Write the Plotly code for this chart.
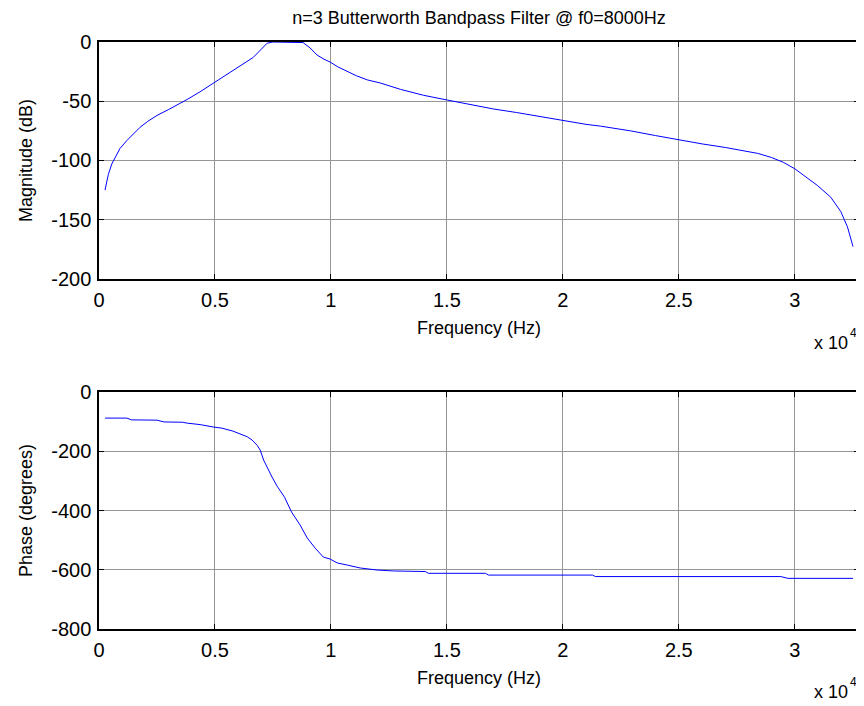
import plotly.graph_objects as go
from plotly.subplots import make_subplots

# Magnitude response (Hz, dB)
freq_mag = [260, 400, 550, 690, 900, 1208, 1500, 1770, 2100, 2500, 3000, 3400, 3800,
            4360, 5000, 5780, 6200, 6650, 7000, 7250, 7500, 8000, 8500, 8800, 9100,
            9400, 9700, 9970, 10300, 10700, 11100, 11570, 12130, 13000, 14000, 15020,
            16000, 17000, 18000, 19000, 19980, 21000, 21620, 22920, 24000, 25080,
            26000, 27000, 28400, 29000, 29500, 30000, 30470, 30970, 31550, 31980,
            32270, 32510]
mag_db = [-125, -112, -103, -98, -90, -83, -77, -72, -67, -62, -57, -53, -48.5,
          -42, -34, -24, -19, -13, -6, -1, 0, 0, 0, -0.5, -5,
          -11, -14.5, -17, -21, -25, -28.5, -32, -34.6, -40, -45, -49,
          -53, -56.5, -59.5, -63, -66, -69.5, -71, -75, -79, -83,
          -86, -89, -94, -97.5, -101.5, -107, -113.5, -121, -131, -143,
          -156, -172.7]

# Phase response (Hz, degrees)
freq_phase = [260, 1200, 1400, 2500, 2800, 3600, 3800, 4360, 4920, 5300, 5780, 6215,
              6390, 6600, 6820, 6950, 7100, 7460, 7680, 8000, 8300, 8670, 8980, 9320,
              9670, 9970, 10270, 10700, 11260, 12000, 12690, 14070, 14200, 16660,
              16800, 21280, 21400, 29400, 29700, 32510]
phase_deg = [-88, -88, -94, -95, -101, -102, -105, -110, -118, -122, -132, -145,
             -151, -162, -180, -196, -230, -287, -318, -355, -405, -449, -493, -527,
             -557, -564, -577, -584, -594, -601, -604, -606, -612, -612,
             -618, -618, -623, -623, -629, -629]

x_tickvals = [0, 5000, 10000, 15000, 20000, 25000, 30000]
x_ticktext = ["0", "0.5", "1", "1.5", "2", "2.5", "3"]
mag_ticks = [0, -50, -100, -150, -200]
mag_ticktext = ["0", "-50", "-100", "-150", "-200"]
phase_ticks = [0, -200, -400, -600, -800]
phase_ticktext = ["0", "-200", "-400", "-600", "-800"]

FONT = "Liberation Sans, Arial, sans-serif"

# the page body has an 8px margin, so the figure is sized to fit the window
W, H = 856, 698

fig = make_subplots(rows=2, cols=1, vertical_spacing=0.1)
fig.add_trace(go.Scatter(x=freq_mag, y=mag_db, mode="lines",
                         line=dict(color="#0000FF", width=1)), row=1, col=1)
fig.add_trace(go.Scatter(x=freq_phase, y=phase_deg, mode="lines",
                         line=dict(color="#0000FF", width=1)), row=2, col=1)

axis_common = dict(showline=True, linecolor="black", linewidth=1.5, mirror="ticks",
                   ticks="inside", ticklen=5, tickcolor="black", tickwidth=1,
                   showgrid=True, gridcolor="rgb(150,150,150)", gridwidth=1,
                   zeroline=False, automargin=False,
                   tickfont=dict(family=FONT, size=20, color="black"))

for r in (1, 2):
    fig.update_xaxes(range=[0, 32768], tickvals=x_tickvals, ticktext=x_ticktext,
                     domain=[0, 1], ticklabelstandoff=2,
                     title=dict(text="Frequency (Hz)", standoff=12,
                                font=dict(family=FONT, size=18, color="black")),
                     row=r, col=1, **axis_common)

fig.update_yaxes(range=[-200, 0], tickvals=mag_ticks, ticktext=mag_ticktext,
                 domain=[0.5963, 1.0], ticklabelstandoff=2,
                 title=dict(text="Magnitude (dB)", standoff=14,
                            font=dict(family=FONT, size=18, color="black")),
                 row=1, col=1, **axis_common)
fig.update_yaxes(range=[-800, 0], tickvals=phase_ticks, ticktext=phase_ticktext,
                 domain=[0.0, 0.4037], ticklabelstandoff=2,
                 title=dict(text="Phase (degrees)", standoff=14,
                            font=dict(family=FONT, size=18, color="black")),
                 row=2, col=1, **axis_common)

for ybase in (0.487, -0.107):
    fig.add_annotation(text="x 10", xref="paper", yref="paper", x=0.988, y=ybase,
                       xanchor="right", yanchor="middle", showarrow=False,
                       font=dict(family=FONT, size=18, color="black"))
    fig.add_annotation(text="4", xref="paper", yref="paper", x=0.986, y=ybase + 0.017,
                       xanchor="left", yanchor="middle", showarrow=False,
                       font=dict(family=FONT, size=12, color="black"))

fig.update_layout(
    width=W, height=H,
    margin=dict(l=91, r=5, t=34, b=77, autoexpand=False),
    paper_bgcolor="white", plot_bgcolor="white",
    showlegend=False,
    title=dict(text="n=3 Butterworth Bandpass Filter @ f0=8000Hz",
               x=0.5, xref="paper", xanchor="center",
               y=1 - 10 / H, yref="container", yanchor="middle",
               font=dict(family=FONT, size=18, color="black")),
)

fig.write_html("out.html")
